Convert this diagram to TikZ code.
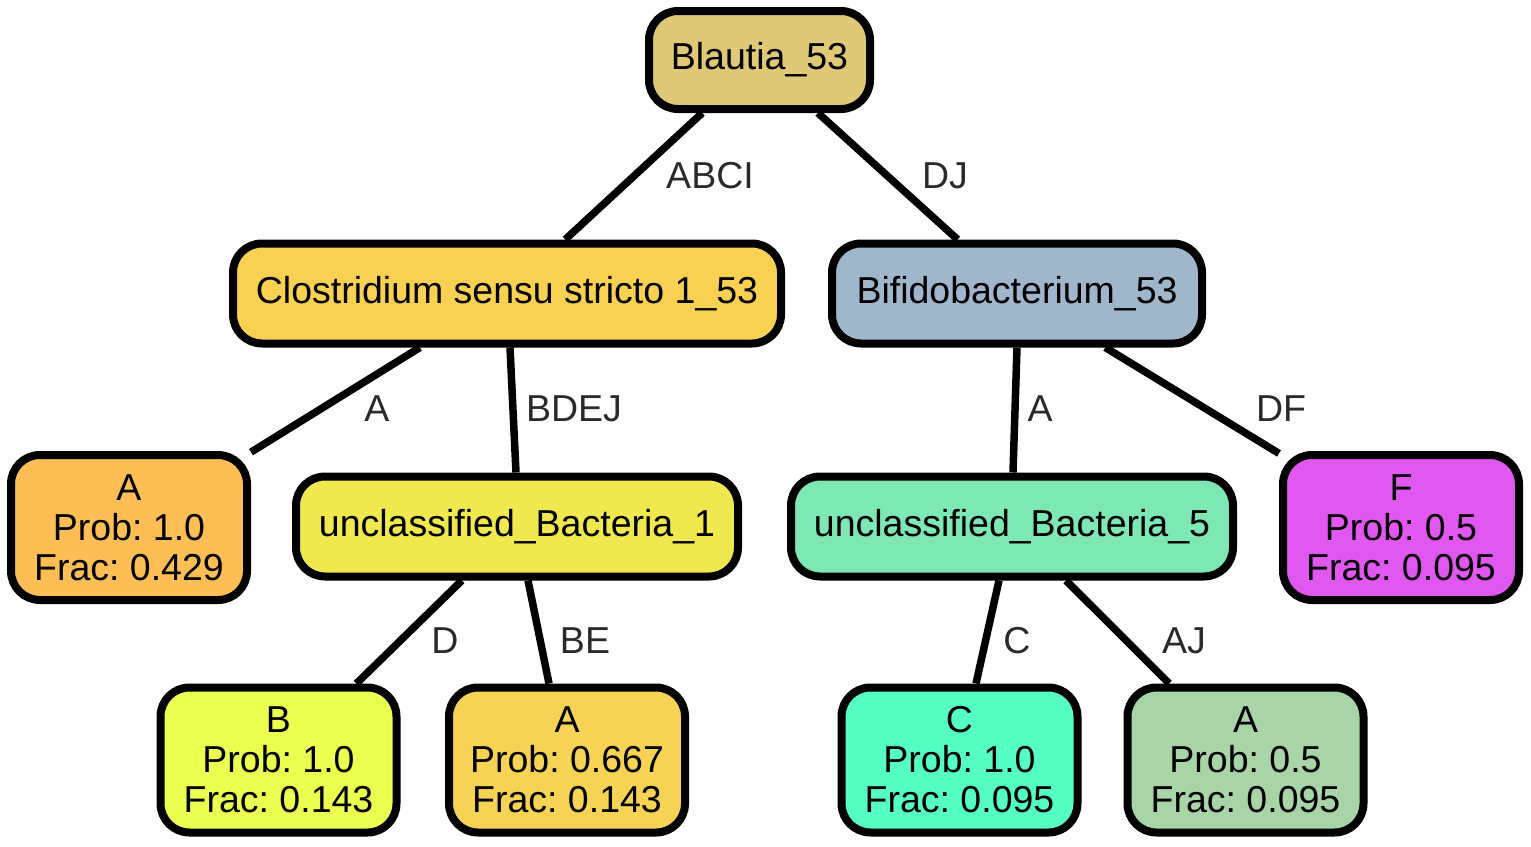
\documentclass[tikz,border=0pt]{standalone}
\usepackage{fontspec}
\setmainfont{Liberation Sans}
\definecolor{cBlautia}{HTML}{DFC977}
\definecolor{cClos}{HTML}{F8D152}
\definecolor{cBifi}{HTML}{A0B6CA}
\definecolor{cAone}{HTML}{FDBF55}
\definecolor{cUBone}{HTML}{F0E84F}
\definecolor{cUBfive}{HTML}{7EE8B5}
\definecolor{cF}{HTML}{E158F1}
\definecolor{cB}{HTML}{EAFF50}
\definecolor{cAtwo}{HTML}{F7D355}
\definecolor{cC}{HTML}{55FEC3}
\definecolor{cAthree}{HTML}{A9D4A7}
\definecolor{lblgray}{HTML}{2A2A2A}
\frenchspacing
\tikzset{
  box/.style={draw=black, line width=8pt, rounded corners=29pt, align=center,
    inner sep=0pt, minimum height=100pt,
    font=\fontsize{37.5}{40}\selectfont},
  leaf/.style={box, minimum height=145pt, minimum width=236pt},
  edge/.style={draw=black, line width=7.5pt},
  lbl/.style={text=lblgray, inner sep=0pt, font=\fontsize{37.5}{40}\selectfont},
}
\begin{document}
\begin{tikzpicture}[x=1pt,y=-1pt]
\useasboundingbox (0,0) rectangle (1531,846);
% nodes
\node[box, fill=cBlautia, minimum width=221pt, minimum height=98pt] (blautia) at (759.5,60) {Blautia\_53};
\node[box, fill=cClos, minimum width=548pt] (clos) at (507,293.5) {Clostridium sensu stricto 1\_53};
\node[box, fill=cBifi, minimum width=370pt] (bifi) at (1017,293.5) {Bifidobacterium\_53};
\node[leaf, fill=cAone] (aone) at (129,527.5) {A\\Prob: 1.0\\Frac: 0.429};
\node[box, fill=cUBone, minimum width=442pt] (ubone) at (517,526.5) {unclassified\_Bacteria\_1};
\node[box, fill=cUBfive, minimum width=442pt] (ubfive) at (1012,526.5) {unclassified\_Bacteria\_5};
\node[leaf, fill=cF] (f) at (1401,527.5) {F\\Prob: 0.5\\Frac: 0.095};
\node[leaf, fill=cB] (b) at (278.5,760) {B\\Prob: 1.0\\Frac: 0.143};
\node[leaf, fill=cAtwo] (atwo) at (567,760) {A\\Prob: 0.667\\Frac: 0.143};
\node[leaf, fill=cC] (c) at (959.5,760) {C\\Prob: 1.0\\Frac: 0.095};
\node[leaf, fill=cAthree] (athree) at (1245.5,760) {A\\Prob: 0.5\\Frac: 0.095};
% edges
\draw[edge] (blautia) -- (clos);
\draw[edge] (blautia) -- (bifi);
\draw[edge] (clos) -- (aone);
\draw[edge] (clos.south -| 510,0) -- (ubone.north -| 516,0);
\draw[edge] (bifi.south -| 1017,0) -- (ubfive.north -| 1013,0);
\draw[edge] (bifi) -- (f);
\draw[edge] (ubone) -- (b);
\draw[edge] (ubone.south -| 528,0) -- (atwo.north -| 549,0);
\draw[edge] (ubfive.south -| 999,0) -- (c.north -| 976,0);
\draw[edge] (ubfive) -- (athree);
% labels
\node[lbl] (l1) at (710,176) {ABCI};
\node[lbl] (l2) at (945,176) {DJ};
\node[lbl] (l3) at (377,409) {A};
\node[lbl] (l4) at (574,409) {BDEJ};
\node[lbl] (l5) at (1040,409) {A};
\node[lbl] (l6) at (1281,409) {DF};
\node[lbl] (l7) at (445,641) {D};
\node[lbl] (l8) at (585,641) {BE};
\node[lbl] (l9) at (1017,641) {C};
\node[lbl] (l10) at (1184,641) {AJ};
\end{tikzpicture}
\end{document}
